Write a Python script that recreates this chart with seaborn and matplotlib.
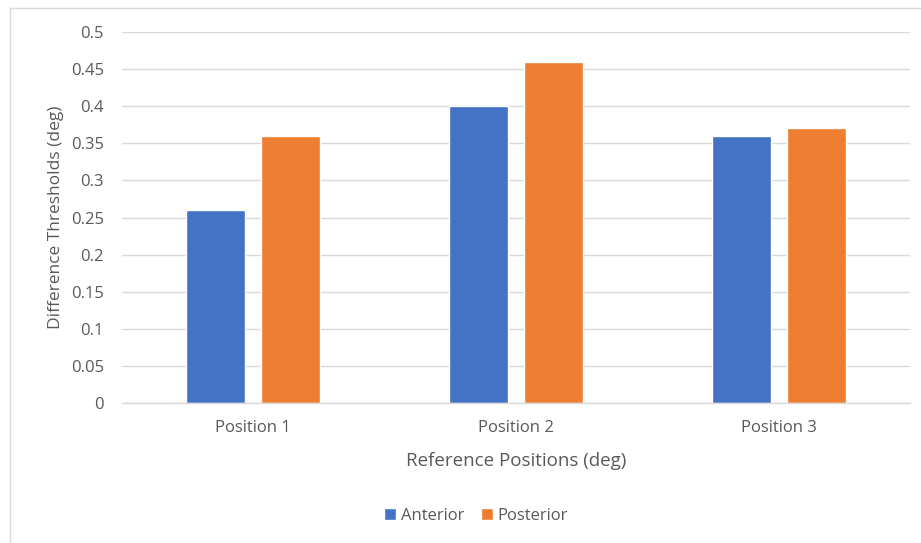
import matplotlib
matplotlib.use("Agg")
import matplotlib.pyplot as plt
import seaborn as sns
import pandas as pd
from matplotlib.patches import Rectangle

positions = ["Position 1", "Position 2", "Position 3"]
anterior = [0.26, 0.40, 0.36]
posterior = [0.36, 0.46, 0.37]
yticks = [0, 0.05, 0.1, 0.15, 0.2, 0.25, 0.3, 0.35, 0.4, 0.45, 0.5]
ytick_labels = ["0", "0.05", "0.1", "0.15", "0.2", "0.25", "0.3", "0.35", "0.4", "0.45", "0.5"]

df = pd.DataFrame({
    "Position": positions * 2,
    "Group": ["Anterior"] * 3 + ["Posterior"] * 3,
    "Value": anterior + posterior,
})

sns.set_theme(style="white")
plt.rcParams["font.family"] = ["Open Sans", "DejaVu Sans"]
text_color = "#595959"

fig = plt.figure(figsize=(9.21, 5.43), dpi=100)
ax = fig.add_axes([122 / 921, 1 - 403 / 543, (910 - 122) / 921, (403 - 32) / 543])

sns.barplot(data=df, x="Position", y="Value", hue="Group",
            palette=["#4472C4", "#ED7D31"], width=0.57, gap=0.213,
            saturation=1, ax=ax, legend=True)

ax.set_ylim(0, 0.5)
ax.set_yticks(yticks)
ax.set_yticklabels(ytick_labels)
ax.grid(axis="y", color="#d9d9d9", linewidth=1)
ax.set_axisbelow(True)
for side in ["top", "right", "left"]:
    ax.spines[side].set_visible(False)
ax.spines["bottom"].set_color("#d9d9d9")
ax.spines["bottom"].set_linewidth(1)
ax.tick_params(axis="y", length=0, pad=13, labelsize=12, labelcolor=text_color)
ax.tick_params(axis="x", length=0, pad=12, labelsize=12, labelcolor=text_color)
ax.set_xlabel("Reference Positions (deg)", fontsize=13.5, color=text_color, labelpad=12)
ax.set_ylabel("Difference Thresholds (deg)", fontsize=12.5, color=text_color, labelpad=5)

handles, labels = ax.get_legend_handles_labels()
ax.legend_.remove()
fig.legend(handles, labels, loc="center", bbox_to_anchor=(476 / 921, 1 - 516 / 543),
           ncol=2, frameon=False, fontsize=12, labelcolor=text_color,
           handlelength=0.7, handleheight=0.7, handletextpad=0.3, columnspacing=1.0)

# chart area border
fig.patches.append(Rectangle((10 / 921, -0.1), 1.2, 1 - 8 / 543 + 0.1,
                             transform=fig.transFigure, fill=False,
                             edgecolor="#d9d9d9", linewidth=1))

fig.savefig("out.png", dpi=100, facecolor="white")
